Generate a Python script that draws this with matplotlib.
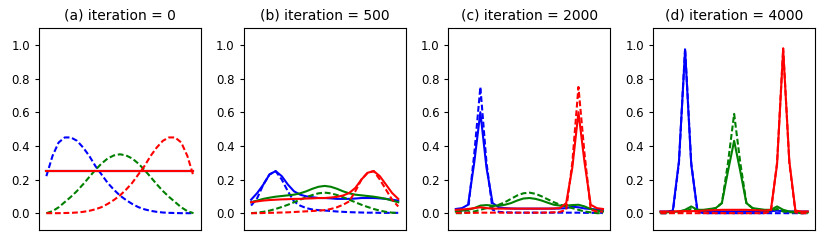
import numpy as np
import matplotlib
matplotlib.use("Agg")
import matplotlib.pyplot as plt

# observation grid (25 discrete points)
x = np.arange(25)

titles = ["(a) iteration = 0", "(b) iteration = 500",
          "(c) iteration = 2000", "(d) iteration = 4000"]

# --- (a) iteration 0 ---
a_blue_true = [0.22, 0.34, 0.42, 0.45, 0.45, 0.43, 0.39, 0.34, 0.28, 0.23, 0.18, 0.14, 0.105,
               0.078, 0.055, 0.036, 0.023, 0.014, 0.008, 0.004, 0.002, 0.001, 0.0, 0.0, 0.0]
a_green_true = [0.0, 0.012, 0.035, 0.066, 0.097, 0.132, 0.172, 0.215, 0.257, 0.295, 0.325, 0.343, 0.35,
                0.343, 0.325, 0.295, 0.257, 0.215, 0.172, 0.132, 0.097, 0.066, 0.035, 0.012, 0.0]
a_red_true = [0.0, 0.0, 0.0, 0.001, 0.002, 0.004, 0.008, 0.014, 0.023, 0.036, 0.055, 0.078, 0.105,
              0.14, 0.18, 0.23, 0.28, 0.34, 0.39, 0.43, 0.45, 0.45, 0.42, 0.34, 0.22]
a_blue_est = [0.25] * 25
a_green_est = [0.25] * 25
a_red_est = [0.25] * 25

# --- (b) iteration 500 ---
b_blue_true = [0.045, 0.09, 0.17, 0.23, 0.25, 0.2, 0.13, 0.07, 0.045, 0.03, 0.022, 0.018, 0.016,
               0.013, 0.01, 0.008, 0.006, 0.005, 0.004, 0.003, 0.003, 0.002, 0.002, 0.002, 0.002]
b_green_true = [0.0, 0.003, 0.008, 0.015, 0.025, 0.037, 0.05, 0.065, 0.08, 0.095, 0.108, 0.118, 0.122,
                0.118, 0.108, 0.095, 0.08, 0.065, 0.05, 0.037, 0.025, 0.015, 0.008, 0.003, 0.0]
b_red_true = [0.0, 0.0, 0.001, 0.002, 0.003, 0.004, 0.005, 0.007, 0.009, 0.011, 0.013, 0.015, 0.018,
              0.025, 0.035, 0.05, 0.07, 0.13, 0.2, 0.24, 0.25, 0.2, 0.14, 0.08, 0.04]
b_blue_est = [0.08, 0.12, 0.17, 0.23, 0.25, 0.22, 0.17, 0.13, 0.11, 0.10, 0.095, 0.09, 0.09,
              0.088, 0.085, 0.085, 0.085, 0.087, 0.09, 0.09, 0.09, 0.088, 0.085, 0.08, 0.075]
b_green_est = [0.065, 0.075, 0.085, 0.092, 0.098, 0.102, 0.106, 0.11, 0.118, 0.13, 0.145, 0.157, 0.162,
               0.157, 0.145, 0.13, 0.118, 0.11, 0.106, 0.102, 0.098, 0.092, 0.085, 0.075, 0.065]
b_red_est = [0.065, 0.07, 0.075, 0.078, 0.08, 0.082, 0.083, 0.085, 0.085, 0.087, 0.088, 0.09, 0.09,
             0.093, 0.097, 0.105, 0.12, 0.15, 0.2, 0.24, 0.25, 0.22, 0.17, 0.12, 0.085]

# --- (c) iteration 2000 ---
c_blue_true = [0.01, 0.01, 0.02, 0.35, 0.75, 0.3, 0.02, 0.008, 0.005, 0.004, 0.003, 0.003, 0.003,
               0.003, 0.003, 0.003, 0.003, 0.003, 0.003, 0.003, 0.003, 0.002, 0.002, 0.002, 0.002]
c_green_true = [0.0, 0.0, 0.005, 0.01, 0.02, 0.03, 0.04, 0.05, 0.065, 0.085, 0.105, 0.118, 0.122,
                0.115, 0.1, 0.082, 0.065, 0.05, 0.04, 0.03, 0.02, 0.01, 0.005, 0.0, 0.0]
c_red_true = [0.002, 0.002, 0.002, 0.002, 0.003, 0.003, 0.003, 0.003, 0.003, 0.003, 0.003, 0.003, 0.003,
              0.003, 0.003, 0.004, 0.005, 0.008, 0.02, 0.3, 0.75, 0.35, 0.02, 0.01, 0.01]
c_blue_est = [0.025, 0.03, 0.05, 0.3, 0.6, 0.27, 0.06, 0.035, 0.03, 0.028, 0.027, 0.027, 0.027,
              0.027, 0.027, 0.027, 0.027, 0.028, 0.03, 0.038, 0.035, 0.028, 0.025, 0.022, 0.02]
c_green_est = [0.01, 0.015, 0.02, 0.03, 0.045, 0.048, 0.045, 0.045, 0.05, 0.06, 0.075, 0.087, 0.09,
               0.085, 0.075, 0.062, 0.05, 0.045, 0.045, 0.048, 0.05, 0.04, 0.025, 0.015, 0.01]
c_red_est = [0.02, 0.022, 0.025, 0.03, 0.035, 0.03, 0.027, 0.027, 0.027, 0.027, 0.027, 0.027, 0.027,
             0.027, 0.027, 0.027, 0.028, 0.03, 0.06, 0.27, 0.6, 0.3, 0.05, 0.03, 0.025]

# --- (d) iteration 4000 ---
d_blue_true = [0.0, 0.0, 0.005, 0.3, 0.98, 0.3, 0.01, 0.0, 0.0, 0.0, 0.0, 0.0, 0.0,
               0.0, 0.0, 0.0, 0.0, 0.0, 0.0, 0.0, 0.0, 0.0, 0.0, 0.0, 0.0]
d_green_true = [0.0, 0.0, 0.003, 0.006, 0.01, 0.025, 0.015, 0.015, 0.02, 0.03, 0.06, 0.3, 0.59,
                0.3, 0.06, 0.03, 0.02, 0.015, 0.015, 0.025, 0.01, 0.006, 0.003, 0.0, 0.0]
d_red_true = [0.0, 0.0, 0.0, 0.0, 0.0, 0.0, 0.0, 0.0, 0.0, 0.0, 0.0, 0.0, 0.0,
              0.0, 0.0, 0.0, 0.0, 0.0, 0.01, 0.3, 0.98, 0.3, 0.005, 0.0, 0.0]
d_blue_est = [0.01, 0.01, 0.015, 0.31, 0.97, 0.29, 0.02, 0.012, 0.01, 0.01, 0.01, 0.01, 0.01,
              0.01, 0.01, 0.01, 0.01, 0.01, 0.012, 0.015, 0.012, 0.01, 0.01, 0.01, 0.01]
d_green_est = [0.005, 0.005, 0.008, 0.01, 0.02, 0.04, 0.02, 0.02, 0.025, 0.03, 0.06, 0.25, 0.43,
               0.25, 0.06, 0.03, 0.025, 0.02, 0.02, 0.04, 0.02, 0.01, 0.008, 0.005, 0.005]
d_red_est = [0.01, 0.01, 0.01, 0.012, 0.012, 0.012, 0.013, 0.015, 0.017, 0.018, 0.02, 0.02, 0.02,
             0.02, 0.02, 0.018, 0.017, 0.015, 0.02, 0.29, 0.97, 0.31, 0.015, 0.01, 0.01]

panels = [
    (a_blue_true, a_green_true, a_red_true, a_blue_est, a_green_est, a_red_est),
    (b_blue_true, b_green_true, b_red_true, b_blue_est, b_green_est, b_red_est),
    (c_blue_true, c_green_true, c_red_true, c_blue_est, c_green_est, c_red_est),
    (d_blue_true, d_green_true, d_red_true, d_blue_est, d_green_est, d_red_est),
]

fig, axes = plt.subplots(1, 4, figsize=(8.3, 2.46), dpi=100)
fig.subplots_adjust(left=0.047, right=0.982, top=0.886, bottom=0.065, wspace=0.265)

for ax, title, data in zip(axes, titles, panels):
    bt, gt, rt, be, ge, re_ = data
    for true, est, c in [(bt, be, "b"), (gt, ge, "g"), (rt, re_, "r")]:
        ax.plot(x, true, "--", color=c, lw=1.5, dashes=(2.8, 1.3))
        ax.plot(x, est, "-", color=c, lw=1.5)
    ax.set_ylim(-0.1, 1.1)
    ax.set_xticks([])
    ax.set_yticks([0.0, 0.2, 0.4, 0.6, 0.8, 1.0])
    ax.tick_params(labelsize=8.5, length=3)
    ax.set_title(title, fontsize=10)

plt.savefig("out.png")
